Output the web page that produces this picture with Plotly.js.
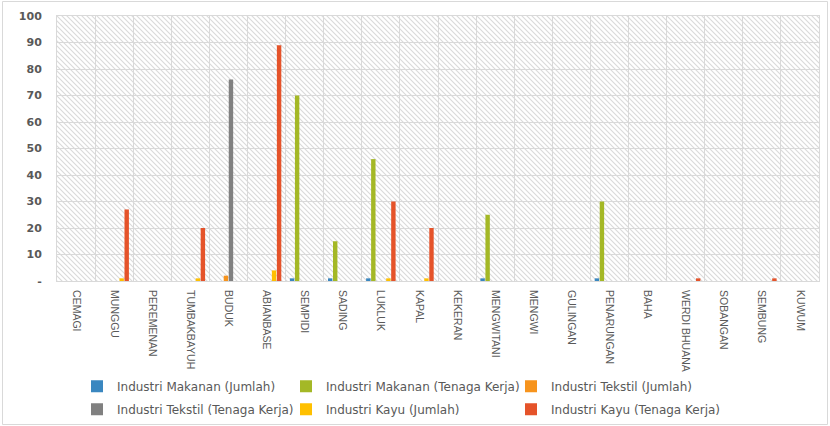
<!DOCTYPE html>
<html>
<head>
<meta charset="utf-8">
<script src="https://cdn.plot.ly/plotly-3.0.1.min.js"></script>
<style>html,body{margin:0;padding:0;background:#fff;}#chart{width:830px;height:426px;}</style>
</head>
<body>
<div id="chart"></div>
<script>
var categories = ['CEMAGI','MUNGGU','PEREMENAN','TUMBAKBAYUH','BUDUK','ABIANBASE','SEMPIDI','SADING','LUKLUK','KAPAL','KEKERAN','MENGWITANI','MENGWI','GULINGAN','PENARUNGAN','BAHA','WERDI BHUANA','SOBANGAN','SEMBUNG','KUWUM'];
var seriesNames = ['Industri Makanan (Jumlah)','Industri Makanan (Tenaga Kerja)','Industri Tekstil (Jumlah)','Industri Tekstil (Tenaga Kerja)','Industri Kayu (Jumlah)','Industri Kayu (Tenaga Kerja)'];
var makananJumlah      = [0,0,0,0,0,0,1,1,1,0,0,1,0,0,1,0,0,0,0,0];
var makananTenagaKerja = [0,0,0,0,0,0,70,15,46,0,0,25,0,0,30,0,0,0,0,0];
var tekstilJumlah      = [0,0,0,0,2,0,0,0,0,0,0,0,0,0,0,0,0,0,0,0];
var tekstilTenagaKerja = [0,0,0,0,76,0,0,0,0,0,0,0,0,0,0,0,0,0,0,0];
var kayuJumlah         = [0,1,0,1,0,4,0,0,1,1,0,0,0,0,0,0,0,0,0,0];
var kayuTenagaKerja    = [0,27,0,20,0,89,0,0,30,20,0,0,0,0,0,0,1,0,1,0];
var yTickVals = [0,10,20,30,40,50,60,70,80,90,100];
var yTickText = ['-','10','20','30','40','50','60','70','80','90','100'];

var colors = ['#3A87C0','#A4B826','#F7941D','#808080','#FFC000','#E5532A'];
var allSeries = [makananJumlah, makananTenagaKerja, tekstilJumlah, tekstilTenagaKerja, kayuJumlah, kayuTenagaKerja];
// legend column for each series (3 columns x 2 rows, filled row by row)
var legendIds = ['legend','legend2','legend3','legend','legend2','legend3'];

var traces = allSeries.map(function(vals, i){
  return {type:'bar', name: seriesNames[i], x: categories, y: vals,
    legend: legendIds[i], legendgroup: 'g' + i,
    marker:{color: colors[i], line:{width:0}}};
});

// plot-area hatch background
var PW = 762, PH = 265;
var svg = '<svg xmlns="http://www.w3.org/2000/svg" width="'+PW+'" height="'+PH+'">' +
  '<defs><pattern id="p" width="5" height="5" patternUnits="userSpaceOnUse">' +
  '<rect width="5" height="5" fill="#ffffff"/>' +
  '<path d="M-1,-1 L6,6 M-1,4 L1,6 M4,-1 L6,1" stroke="#dadada" stroke-width="1.1"/>' +
  '</pattern></defs><rect width="'+PW+'" height="'+PH+'" fill="url(#p)"/></svg>';
var imgSrc = 'data:image/svg+xml;charset=utf-8,' + encodeURIComponent(svg);

var W = 830, H = 426;
var L = 57, T = 16, B = 145, R = 11;
function px(x){ return (x - L) / PW; }
function py(y){ return (H - B - y) / PH; }

function legendAt(xLeft){
  return {
    orientation: 'v',
    xref: 'paper', x: px(xLeft), xanchor: 'left',
    yref: 'container', y: 1 - 371.7 / H, yanchor: 'top',
    traceorder: 'grouped', tracegroupgap: 4,
    font: {family: 'DejaVu Sans, sans-serif', size: 12, color: '#595959'},
    bgcolor: 'rgba(0,0,0,0)', borderwidth: 0
  };
}

var layout = {
  width: W, height: H,
  margin: {l: L, r: R, t: T, b: B, pad: 0},
  paper_bgcolor: '#ffffff',
  plot_bgcolor: 'rgba(0,0,0,0)',
  barmode: 'group',
  bargap: 0.21,
  bargroupgap: 0.12,
  showlegend: true,
  font: {family: 'DejaVu Sans, sans-serif', color: '#595959'},
  xaxis: {
    type: 'category', tickson: 'boundaries', automargin: false,
    showgrid: true, gridcolor: '#d9d9d9', gridwidth: 1,
    showline: true, linecolor: '#d9d9d9', linewidth: 1, mirror: true,
    ticks: '', tickangle: 90,
    tickfont: {family: 'Liberation Sans, Arial, sans-serif', size: 10.5, color: '#595959'},
    ticklabelstandoff: 6, fixedrange: true
  },
  yaxis: {
    range: [0, 100], automargin: false,
    tickvals: yTickVals, ticktext: yTickText,
    showgrid: true, gridcolor: '#d9d9d9', gridwidth: 1,
    showline: true, linecolor: '#d9d9d9', linewidth: 1, mirror: true,
    zeroline: false, ticks: '',
    tickfont: {family: 'DejaVu Sans, sans-serif', size: 11, color: '#595959', weight: 'bold'},
    ticklabelstandoff: 12, fixedrange: true
  },
  legend: legendAt(77),
  legend2: legendAt(286),
  legend3: legendAt(511),
  images: [{
    source: imgSrc, xref: 'paper', yref: 'paper',
    x: 0, y: 1, sizex: 1, sizey: 1, xanchor: 'left', yanchor: 'top',
    sizing: 'stretch', layer: 'below'
  }],
  shapes: [{
    type: 'rect', xref: 'paper', yref: 'paper',
    x0: px(2.5), x1: px(827.5), y0: py(424.5), y1: py(1.5),
    line: {color: '#d9d9d9', width: 1}, fillcolor: 'rgba(0,0,0,0)', layer: 'below'
  }]
};

Plotly.newPlot('chart', traces, layout, {displayModeBar: false, staticPlot: true});
</script>
</body>
</html>
